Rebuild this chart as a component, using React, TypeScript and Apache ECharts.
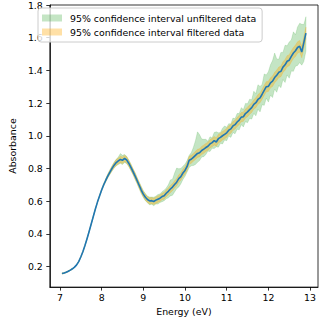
import React, { useEffect, useRef } from "react";
import * as echarts from "echarts";

const energy = [
  7.05, 7.1, 7.15, 7.2, 7.25, 7.3, 7.35, 7.4, 7.45, 7.5,
  7.55, 7.6, 7.65, 7.7, 7.75, 7.8, 7.85, 7.9, 7.95, 8.0,
  8.05, 8.1, 8.15, 8.2, 8.25, 8.3, 8.35, 8.4, 8.45, 8.5,
  8.55, 8.6, 8.65, 8.7, 8.75, 8.8, 8.85, 8.9, 8.95, 9.0,
  9.05, 9.1, 9.15, 9.2, 9.25, 9.3, 9.35, 9.4, 9.45, 9.5,
  9.55, 9.6, 9.65, 9.7, 9.75, 9.8, 9.85, 9.9, 9.95, 10.0,
  10.05, 10.1, 10.15, 10.2, 10.25, 10.3, 10.35, 10.4, 10.45, 10.5,
  10.55, 10.6, 10.65, 10.7, 10.75, 10.8, 10.85, 10.9, 10.95, 11.0,
  11.05, 11.1, 11.15, 11.2, 11.25, 11.3, 11.35, 11.4, 11.45, 11.5,
  11.55, 11.6, 11.65, 11.7, 11.75, 11.8, 11.85, 11.9, 11.95, 12.0,
  12.05, 12.1, 12.15, 12.2, 12.25, 12.3, 12.35, 12.4, 12.45, 12.5,
  12.55, 12.6, 12.65, 12.7, 12.75, 12.8, 12.85, 12.9,
];

const absorbance = [
  0.157, 0.16, 0.165, 0.171, 0.178, 0.186, 0.196, 0.21, 0.23, 0.258,
  0.29, 0.328, 0.37, 0.414, 0.46, 0.506, 0.552, 0.594, 0.632, 0.668,
  0.7, 0.728, 0.755, 0.778, 0.8, 0.82, 0.836, 0.846, 0.855, 0.85,
  0.861, 0.852, 0.832, 0.808, 0.782, 0.755, 0.726, 0.697, 0.668, 0.643,
  0.624, 0.61, 0.601, 0.603, 0.598, 0.606, 0.612, 0.618, 0.628, 0.633,
  0.648, 0.66, 0.674, 0.686, 0.702, 0.716, 0.738, 0.75, 0.772, 0.788,
  0.812, 0.85, 0.856, 0.868, 0.88, 0.892, 0.896, 0.91, 0.918, 0.928,
  0.936, 0.95, 0.958, 0.97, 0.962, 0.982, 0.99, 1.0, 1.008, 1.018,
  1.034, 1.042, 1.06, 1.068, 1.084, 1.096, 1.114, 1.116, 1.136, 1.146,
  1.16, 1.172, 1.192, 1.202, 1.222, 1.232, 1.254, 1.278, 1.3, 1.302,
  1.324, 1.334, 1.356, 1.37, 1.388, 1.394, 1.42, 1.434, 1.456, 1.462,
  1.486, 1.506, 1.52, 1.54, 1.548, 1.512, 1.57, 1.628,
];

const filteredHalf = [
  0.003, 0.003, 0.003, 0.003, 0.003, 0.003, 0.003, 0.003, 0.003, 0.003,
  0.003, 0.003, 0.003, 0.003, 0.003, 0.003, 0.003, 0.003, 0.004, 0.005,
  0.006, 0.008, 0.01, 0.012, 0.014, 0.016, 0.018, 0.018, 0.02, 0.02,
  0.02, 0.019, 0.018, 0.018, 0.018, 0.018, 0.018, 0.018, 0.018, 0.018,
  0.018, 0.018, 0.018, 0.019, 0.019, 0.02, 0.02, 0.02, 0.02, 0.021,
  0.021, 0.021, 0.022, 0.022, 0.022, 0.022, 0.023, 0.023, 0.023, 0.023,
  0.024, 0.024, 0.024, 0.024, 0.025, 0.025, 0.025, 0.025, 0.025, 0.025,
  0.025, 0.025, 0.026, 0.026, 0.026, 0.026, 0.026, 0.026, 0.027, 0.027,
  0.027, 0.027, 0.027, 0.027, 0.028, 0.028, 0.028, 0.028, 0.028, 0.029,
  0.029, 0.029, 0.029, 0.03, 0.03, 0.03, 0.03, 0.031, 0.031, 0.031,
  0.031, 0.032, 0.032, 0.032, 0.032, 0.033, 0.033, 0.033, 0.034, 0.034,
  0.034, 0.034, 0.035, 0.035, 0.035, 0.035, 0.036, 0.036,
];

const unfilteredUp = [
  0.003, 0.003, 0.003, 0.003, 0.003, 0.003, 0.003, 0.003, 0.003, 0.003,
  0.003, 0.003, 0.003, 0.003, 0.003, 0.003, 0.003, 0.003, 0.004, 0.006,
  0.008, 0.01, 0.012, 0.014, 0.016, 0.018, 0.02, 0.024, 0.036, 0.03,
  0.024, 0.022, 0.02, 0.02, 0.018, 0.02, 0.018, 0.02, 0.022, 0.02,
  0.022, 0.02, 0.024, 0.022, 0.026, 0.024, 0.028, 0.026, 0.03, 0.034,
  0.032, 0.04, 0.056, 0.048, 0.07, 0.086, 0.06, 0.05, 0.042, 0.038,
  0.036, 0.03, 0.04, 0.06, 0.09, 0.132, 0.11, 0.07, 0.06, 0.05,
  0.03, 0.044, 0.028, 0.05, 0.062, 0.036, 0.03, 0.046, 0.052, 0.034,
  0.04, 0.03, 0.048, 0.036, 0.052, 0.04, 0.058, 0.044, 0.062, 0.05,
  0.064, 0.048, 0.08, 0.056, 0.09, 0.07, 0.06, 0.1, 0.072, 0.09,
  0.11, 0.126, 0.15, 0.1, 0.08, 0.116, 0.09, 0.12, 0.094, 0.112,
  0.1, 0.13, 0.098, 0.126, 0.14, 0.17, 0.11, 0.1,
];

const unfilteredDown = [
  0.003, 0.003, 0.003, 0.003, 0.003, 0.003, 0.003, 0.003, 0.003, 0.003,
  0.003, 0.003, 0.003, 0.003, 0.003, 0.003, 0.003, 0.003, 0.004, 0.006,
  0.008, 0.01, 0.012, 0.014, 0.016, 0.018, 0.02, 0.022, 0.024, 0.026,
  0.024, 0.022, 0.02, 0.02, 0.018, 0.02, 0.018, 0.02, 0.022, 0.02,
  0.022, 0.02, 0.024, 0.022, 0.026, 0.024, 0.03, 0.026, 0.032, 0.03,
  0.034, 0.04, 0.042, 0.05, 0.046, 0.04, 0.052, 0.044, 0.04, 0.036,
  0.034, 0.044, 0.04, 0.05, 0.056, 0.054, 0.048, 0.04, 0.046, 0.042,
  0.03, 0.046, 0.034, 0.048, 0.03, 0.052, 0.036, 0.05, 0.034, 0.048,
  0.036, 0.052, 0.04, 0.056, 0.044, 0.06, 0.046, 0.062, 0.05, 0.066,
  0.054, 0.07, 0.056, 0.08, 0.06, 0.086, 0.064, 0.092, 0.07, 0.096,
  0.076, 0.1, 0.07, 0.104, 0.08, 0.1, 0.076, 0.108, 0.084, 0.11,
  0.09, 0.112, 0.094, 0.11, 0.1, 0.08, 0.116, 0.11,
];

const xTicks = [7, 8, 9, 10, 11, 12, 13];
const yTicks = [0.2, 0.4, 0.6, 0.8, 1.0, 1.2, 1.4, 1.6, 1.8];

const labelUnfiltered = "95% confidence interval unfiltered data";
const labelFiltered = "95% confidence interval filtered data";

const GREEN = "rgba(44,160,44,0.28)";
const ORANGE = "rgba(255,165,0,0.35)";
const BLUE = "#1f77b4";
const FONT = "DejaVu Sans";
const FS = 9.4;

function bandSeries(name: string, lower: number[], upper: number[], color: string) {
  return {
    type: "custom",
    name,
    data: [[energy[0], absorbance[0]]],
    itemStyle: { color },
    silent: true,
    renderItem: (_params: any, api: any) => {
      const pts: number[][] = [];
      for (let i = 0; i < energy.length; i++) pts.push(api.coord([energy[i], upper[i]]));
      for (let i = energy.length - 1; i >= 0; i--) pts.push(api.coord([energy[i], lower[i]]));
      return {
        type: "polygon",
        shape: { points: pts },
        style: { fill: color, stroke: color, lineWidth: 0.6 },
      };
    },
  };
}

export default function App() {
  const ref = useRef<HTMLDivElement>(null);
  useEffect(() => {
    if (!ref.current) return;
    const chart = echarts.init(ref.current, null, { renderer: "svg" });
    const unfLo = absorbance.map((v, i) => v - unfilteredDown[i]);
    const unfHi = absorbance.map((v, i) => v + unfilteredUp[i]);
    const fLo = absorbance.map((v, i) => v - filteredHalf[i]);
    const fHi = absorbance.map((v, i) => v + filteredHalf[i]);
    chart.setOption({
      animation: false,
      backgroundColor: "#fff",
      textStyle: { fontFamily: FONT },
      grid: {
        left: 36,
        right: 3,
        top: 5,
        bottom: 31,
        show: true,
        borderColor: "#000",
        borderWidth: 0.8,
        containLabel: false,
      },
      legend: {
        orient: "vertical",
        left: 38,
        top: 8,
        padding: [4, 6, 4, 4],
        itemGap: 2,
        itemWidth: 20,
        itemHeight: 7,
        icon: "rect",
        backgroundColor: "rgba(255,255,255,0.8)",
        borderColor: "#ccc",
        borderWidth: 1,
        borderRadius: 3,
        textStyle: { fontFamily: FONT, fontSize: FS, color: "#000", lineHeight: 12, padding: [0, 0, 0, 3] },
        data: [
          { name: labelUnfiltered, itemStyle: { color: GREEN } },
          { name: labelFiltered, itemStyle: { color: ORANGE } },
        ],
      },
      xAxis: {
        type: "value",
        min: 6.757,
        max: 13.19,
        name: "Energy (eV)",
        nameLocation: "middle",
        nameGap: 18,
        nameTextStyle: { fontFamily: FONT, fontSize: FS, color: "#000" },
        axisLine: { show: true, lineStyle: { color: "#000", width: 0.8 } },
        axisTick: { show: true, length: 3.5, lineStyle: { color: "#000", width: 0.8 }, customValues: xTicks },
        axisLabel: { fontFamily: FONT, fontSize: FS, color: "#000", margin: 6, customValues: xTicks },
        splitLine: { show: false },
      },
      yAxis: {
        type: "value",
        min: 0.074,
        max: 1.8,
        name: "Absorbance",
        nameLocation: "middle",
        nameGap: 24,
        nameTextStyle: { fontFamily: FONT, fontSize: FS, color: "#000" },
        axisLine: { show: true, lineStyle: { color: "#000", width: 0.8 } },
        axisTick: { show: true, length: 3.5, lineStyle: { color: "#000", width: 0.8 }, customValues: yTicks },
        axisLabel: {
          fontFamily: FONT,
          fontSize: FS,
          color: "#000",
          margin: 7,
          customValues: yTicks,
          formatter: (v: number) => v.toFixed(1),
        },
        splitLine: { show: false },
      },
      series: [
        bandSeries(labelUnfiltered, unfLo, unfHi, GREEN),
        bandSeries(labelFiltered, fLo, fHi, ORANGE),
        {
          type: "line",
          name: "mean",
          data: energy.map((e, i) => [e, absorbance[i]]),
          showSymbol: false,
          lineStyle: { color: BLUE, width: 1.6 },
          itemStyle: { color: BLUE },
          silent: true,
        },
      ],
    });
    return () => chart.dispose();
  }, []);
  return (
    <div
      ref={ref}
      style={{ position: "fixed", left: 0, top: 0, width: 321, height: 321 }}
    />
  );
}
